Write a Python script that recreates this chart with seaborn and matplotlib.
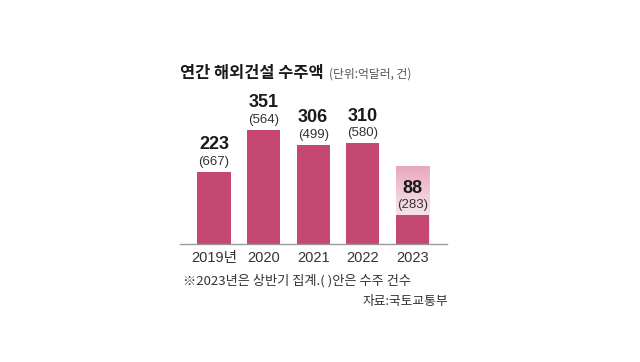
import matplotlib
matplotlib.use("Agg")
import matplotlib.pyplot as plt
import seaborn as sns
import numpy as np
import pandas as pd

# data
years = ["2019년", "2020", "2021", "2022", "2023"]
amount = [223, 351, 306, 310, 88]          # 억달러
counts = [667, 564, 499, 580, 283]         # 수주 건수
box_2023 = 240                             # shaded box behind the 2023 bar

sns.set_theme(style="white")
plt.rcParams["font.family"] = ["Liberation Sans", "Noto Sans CJK KR", "DejaVu Sans"]
plt.rcParams["axes.unicode_minus"] = False

W, H = 640, 362
fig = plt.figure(figsize=(W / 100, H / 100), dpi=100)
fig.patch.set_facecolor("white")

# axes placed in pixel terms: baseline y=244, x from 180 to 447
ax = fig.add_axes([180 / W, (H - 244) / H, 267 / W, 154 / H])
ax.set_facecolor("none")

bar_color = "#c44872"
df = pd.DataFrame({"year": years, "amount": amount})

# gradient box behind the 2023 bar (darker at top, fading down)
grad = np.linspace(0, 1, 100).reshape(-1, 1)
cmap = matplotlib.colors.LinearSegmentedColormap.from_list("g", ["#fbeef2", "#f4dbe3", "#e8a8bd"])
ax.imshow(grad, extent=(4 - 0.335, 4 + 0.335, 0, box_2023), cmap=cmap,
          aspect="auto", origin="lower", zorder=0)

sns.barplot(data=df, x="year", y="amount", color=bar_color, saturation=1,
            width=0.67, linewidth=0, ax=ax, zorder=2)

ax.set_xlim(-0.685, 4.70)
ax.set_ylim(0, 474)

for i, (a, c) in enumerate(zip(amount, counts)):
    ax.annotate(f"({c})", (i, a), xytext=(0, 10), textcoords="offset pixels",
                ha="center", va="center", fontsize=9.5, color="#333333", zorder=3)
    ax.annotate(f"{a}", (i, a), xytext=(0, 27), textcoords="offset pixels",
                ha="center", va="center", fontsize=13, fontweight="bold",
                color="#1a1a1a", zorder=3)

for s in ["top", "right", "left"]:
    ax.spines[s].set_visible(False)
ax.spines["bottom"].set_color("#999999")
ax.spines["bottom"].set_linewidth(1.0)
ax.set_yticks([])
ax.set_xlabel("")
ax.set_ylabel("")
ax.tick_params(axis="x", length=0, pad=5, labelsize=10.5, labelcolor="#333333")

# title and notes
kr = ["Noto Sans CJK KR", "DejaVu Sans"]
fig.text(180 / W, 1 - 73 / H, "연간 해외건설 수주액", fontsize=11.8, fontweight="bold",
         color="#1a1a1a", va="center", ha="left", family=kr)
fig.text(329 / W, 1 - 74 / H, "(단위:억달러, 건)", fontsize=8.5, color="#555555",
         va="center", ha="left", family=kr)
fig.text(183 / W, 1 - 281 / H, "※2023년은 상반기 집계.( )안은 수주 건수", fontsize=9.5,
         color="#333333", va="center", ha="left", family=kr)
fig.text(448 / W, 1 - 301 / H, "자료:국토교통부", fontsize=9.2, color="#333333",
         va="center", ha="right", family=kr)

fig.savefig("out.png", dpi=100)
